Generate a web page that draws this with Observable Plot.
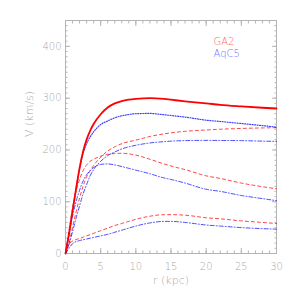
<!DOCTYPE html>
<html><head><meta charset="utf-8">
<script src="https://cdn.jsdelivr.net/npm/d3@7"></script>
<script src="https://cdn.jsdelivr.net/npm/@observablehq/plot@0.6"></script>
<style>html,body{margin:0;padding:0;background:#fff;} svg{display:block;}</style>
</head><body><div id="chart"></div>
<script>
// radius grid (kpc)
const rKpc      = [0, 0.5, 1, 1.5, 2, 2.5, 3, 3.5, 4, 5, 6, 7, 8, 9, 10, 12, 14, 15, 17, 20, 22, 25, 28, 30];
// GA2 (red)
const ga2Total  = [0, 38, 82, 125, 165, 197, 220, 237, 250, 269, 282, 290, 294.5, 297, 298.5, 300, 298.5, 297, 294, 290, 287, 284, 281.5, 280];
const ga2Halo   = [0, 20, 50, 80, 107, 130, 148, 160, 170, 186, 198, 206, 212, 216, 219, 226, 231, 233, 236, 238.5, 240, 241.5, 242.5, 243];
const ga2Disk   = [0, 45, 88, 120, 143, 160, 171, 178, 182, 188, 191.5, 193, 193.5, 192.5, 190, 182, 173, 169, 162, 150, 145, 136, 129, 125];
const ga2Low    = [0, 18, 24, 27, 29, 31.5, 34, 36.5, 39, 44, 49, 54, 58, 62, 66, 72, 75, 75, 74, 69, 67, 63, 60, 58];
// AqC5 (blue)
const aqTotal   = [0, 38, 82, 124, 163, 193, 212, 225, 235, 249, 256, 262, 266, 268.5, 270, 270.5, 268, 266.5, 263.5, 257.5, 255, 251, 247, 244];
const aqHalo    = [0, 18, 42, 68, 92, 115, 133, 150, 162, 178, 189, 196, 202, 206, 209, 213.5, 216, 217, 218, 218.5, 218.3, 218, 217, 216.5];
const aqDisk    = [0, 38, 72, 100, 122, 140, 152, 160, 166, 172, 173, 171, 168, 164.5, 161, 154, 146, 143, 136, 124, 120, 112, 106, 102];
const aqLow     = [0, 10, 19, 23, 25, 26.5, 28, 29.5, 31, 34, 37, 41, 45, 49, 53, 59, 62, 62, 60, 55, 53, 50, 48, 47];
// ticks and labels
const xTicks = [0, 5, 10, 15, 20, 25, 30];
const yTicks = [0, 100, 200, 300, 400];
const legendNames = ["GA2", "AqC5"];
const xTitle = "r (kpc)";
const yTitle = "V (km/s)";

const RED = "#ff0000", BLUE = "#0000ff";
const series = [
  {v: ga2Halo,  stroke: RED,  dash: "3,3",     w: 1,   o: 0.75},
  {v: ga2Disk,  stroke: RED,  dash: "3,3",     w: 1,   o: 0.75},
  {v: ga2Low,   stroke: RED,  dash: "3,3",     w: 1,   o: 0.75},
  {v: aqHalo,   stroke: BLUE, dash: "4,2,1,2", w: 1,   o: 0.7},
  {v: aqDisk,   stroke: BLUE, dash: "4,2,1,2", w: 1,   o: 0.7},
  {v: aqLow,    stroke: BLUE, dash: "4,2,1,2", w: 1,   o: 0.7},
  {v: aqTotal,  stroke: BLUE, dash: "1,1.5",   w: 1.2, o: 0.75},
  {v: ga2Total, stroke: RED,  dash: null,      w: 1.8, o: 1}
];
const axisColor = "#b4b4b4";
const textColor = "#a8a8a8";
const xMinor = d3.range(0, 31, 1);
const yMinor = d3.range(0, 451, 10);
const blank = () => "";

const lineMarks = series.map(s => Plot.line(rKpc.map((r, i) => ({r, v: s.v[i]})), {
  x: "r", y: "v", stroke: s.stroke, strokeWidth: s.w, strokeOpacity: s.o,
  strokeDasharray: s.dash, curve: "monotone-x"
}));

const chart = Plot.plot({
  width: 295, height: 295,
  marginLeft: 65, marginRight: 19, marginTop: 20, marginBottom: 42,
  x: {domain: [0, 30]},
  y: {domain: [0, 450]},
  style: {fontFamily: "DejaVu Sans", fontSize: "10px", background: "white", color: textColor},
  marks: [
    Plot.frame({stroke: axisColor}),
    // minor ticks (inward, all four sides)
    Plot.axisX(xMinor, {anchor: "bottom", tickSize: -2.5, tickFormat: blank, label: null, stroke: axisColor}),
    Plot.axisX(xMinor, {anchor: "top", tickSize: -2.5, tickFormat: blank, label: null, stroke: axisColor}),
    Plot.axisY(yMinor, {anchor: "left", tickSize: -2.5, tickFormat: blank, label: null, stroke: axisColor}),
    Plot.axisY(yMinor, {anchor: "right", tickSize: -2.5, tickFormat: blank, label: null, stroke: axisColor}),
    // major ticks
    Plot.axisX(xTicks, {anchor: "bottom", tickSize: -5, tickFormat: blank, label: null, stroke: axisColor}),
    Plot.axisX(xTicks, {anchor: "top", tickSize: -5, tickFormat: blank, label: null, stroke: axisColor}),
    Plot.axisY(yTicks, {anchor: "left", tickSize: -5, tickFormat: blank, label: null, stroke: axisColor}),
    Plot.axisY(yTicks, {anchor: "right", tickSize: -5, tickFormat: blank, label: null, stroke: axisColor}),
    // tick labels
    Plot.axisX(xTicks, {anchor: "bottom", tickSize: 0, tickPadding: 9, label: null, fill: textColor, fontSize: 10, fontWeight: 300}),
    Plot.axisY(yTicks, {anchor: "left", tickSize: 0, tickPadding: 4, label: null, fill: textColor, fontSize: 10, fontWeight: 300}),
    ...lineMarks,
    // axis titles
    Plot.text([xTitle], {frameAnchor: "bottom", dy: 27, text: d => d, fill: textColor, fontSize: 11, fontWeight: 300, lineAnchor: "middle"}),
    Plot.text([yTitle], {frameAnchor: "left", dx: -36, rotate: -90, text: d => d, fill: textColor, fontSize: 11, fontWeight: 300, lineAnchor: "middle"}),
    // legend
    Plot.text([legendNames[0]], {frameAnchor: "top-left", dx: 148, dy: 21, text: d => d, fill: "#ff6666", fontSize: 10, fontWeight: 300, textAnchor: "start", lineAnchor: "middle"}),
    Plot.text([legendNames[1]], {frameAnchor: "top-left", dx: 148, dy: 33, text: d => d, fill: "#7373ff", fontSize: 10, fontWeight: 300, textAnchor: "start", lineAnchor: "middle"})
  ]
});
document.getElementById("chart").appendChild(chart);
</script>
</body></html>
